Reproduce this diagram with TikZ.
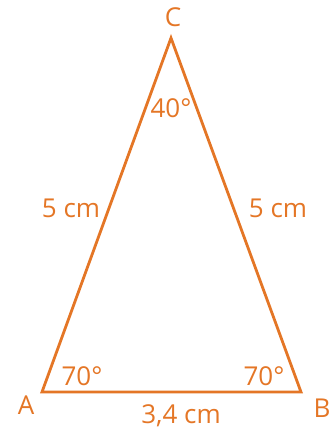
\documentclass[tikz,border=0pt]{standalone}
\usepackage{fontspec}
\setmainfont{Open Sans}
\definecolor{tri}{RGB}{228,118,38}
\begin{document}
\begin{tikzpicture}[x=1pt,y=-1pt,
  lbl/.style={text=tri,font=\fontsize{26}{30}\selectfont,inner sep=0pt,anchor=center},
  edge/.style={draw=tri,line width=2.8pt,line join=miter}]
\useasboundingbox (0,0) rectangle (330,432);
\coordinate (A) at (42,392);
\coordinate (B) at (301,392);
\coordinate (C) at (171,38);
\draw[edge] (A) -- (B) -- (C) -- cycle;
\node[lbl] (lC) at (173,17) {C};
\node[lbl] (lA) at (26,405) {A};
\node[lbl] (lB) at (322,408) {B};
\node[lbl] (aC) at (171,108) {40°};
\node[lbl] (aA) at (82,376) {70°};
\node[lbl] (aB) at (264,376) {70°};
\node[lbl] (sL) at (71,208) {5 cm};
\node[lbl] (sR) at (278,208) {5 cm};
\node[lbl] (sB) at (181,416) {3,4 cm};
\end{tikzpicture}
\end{document}
